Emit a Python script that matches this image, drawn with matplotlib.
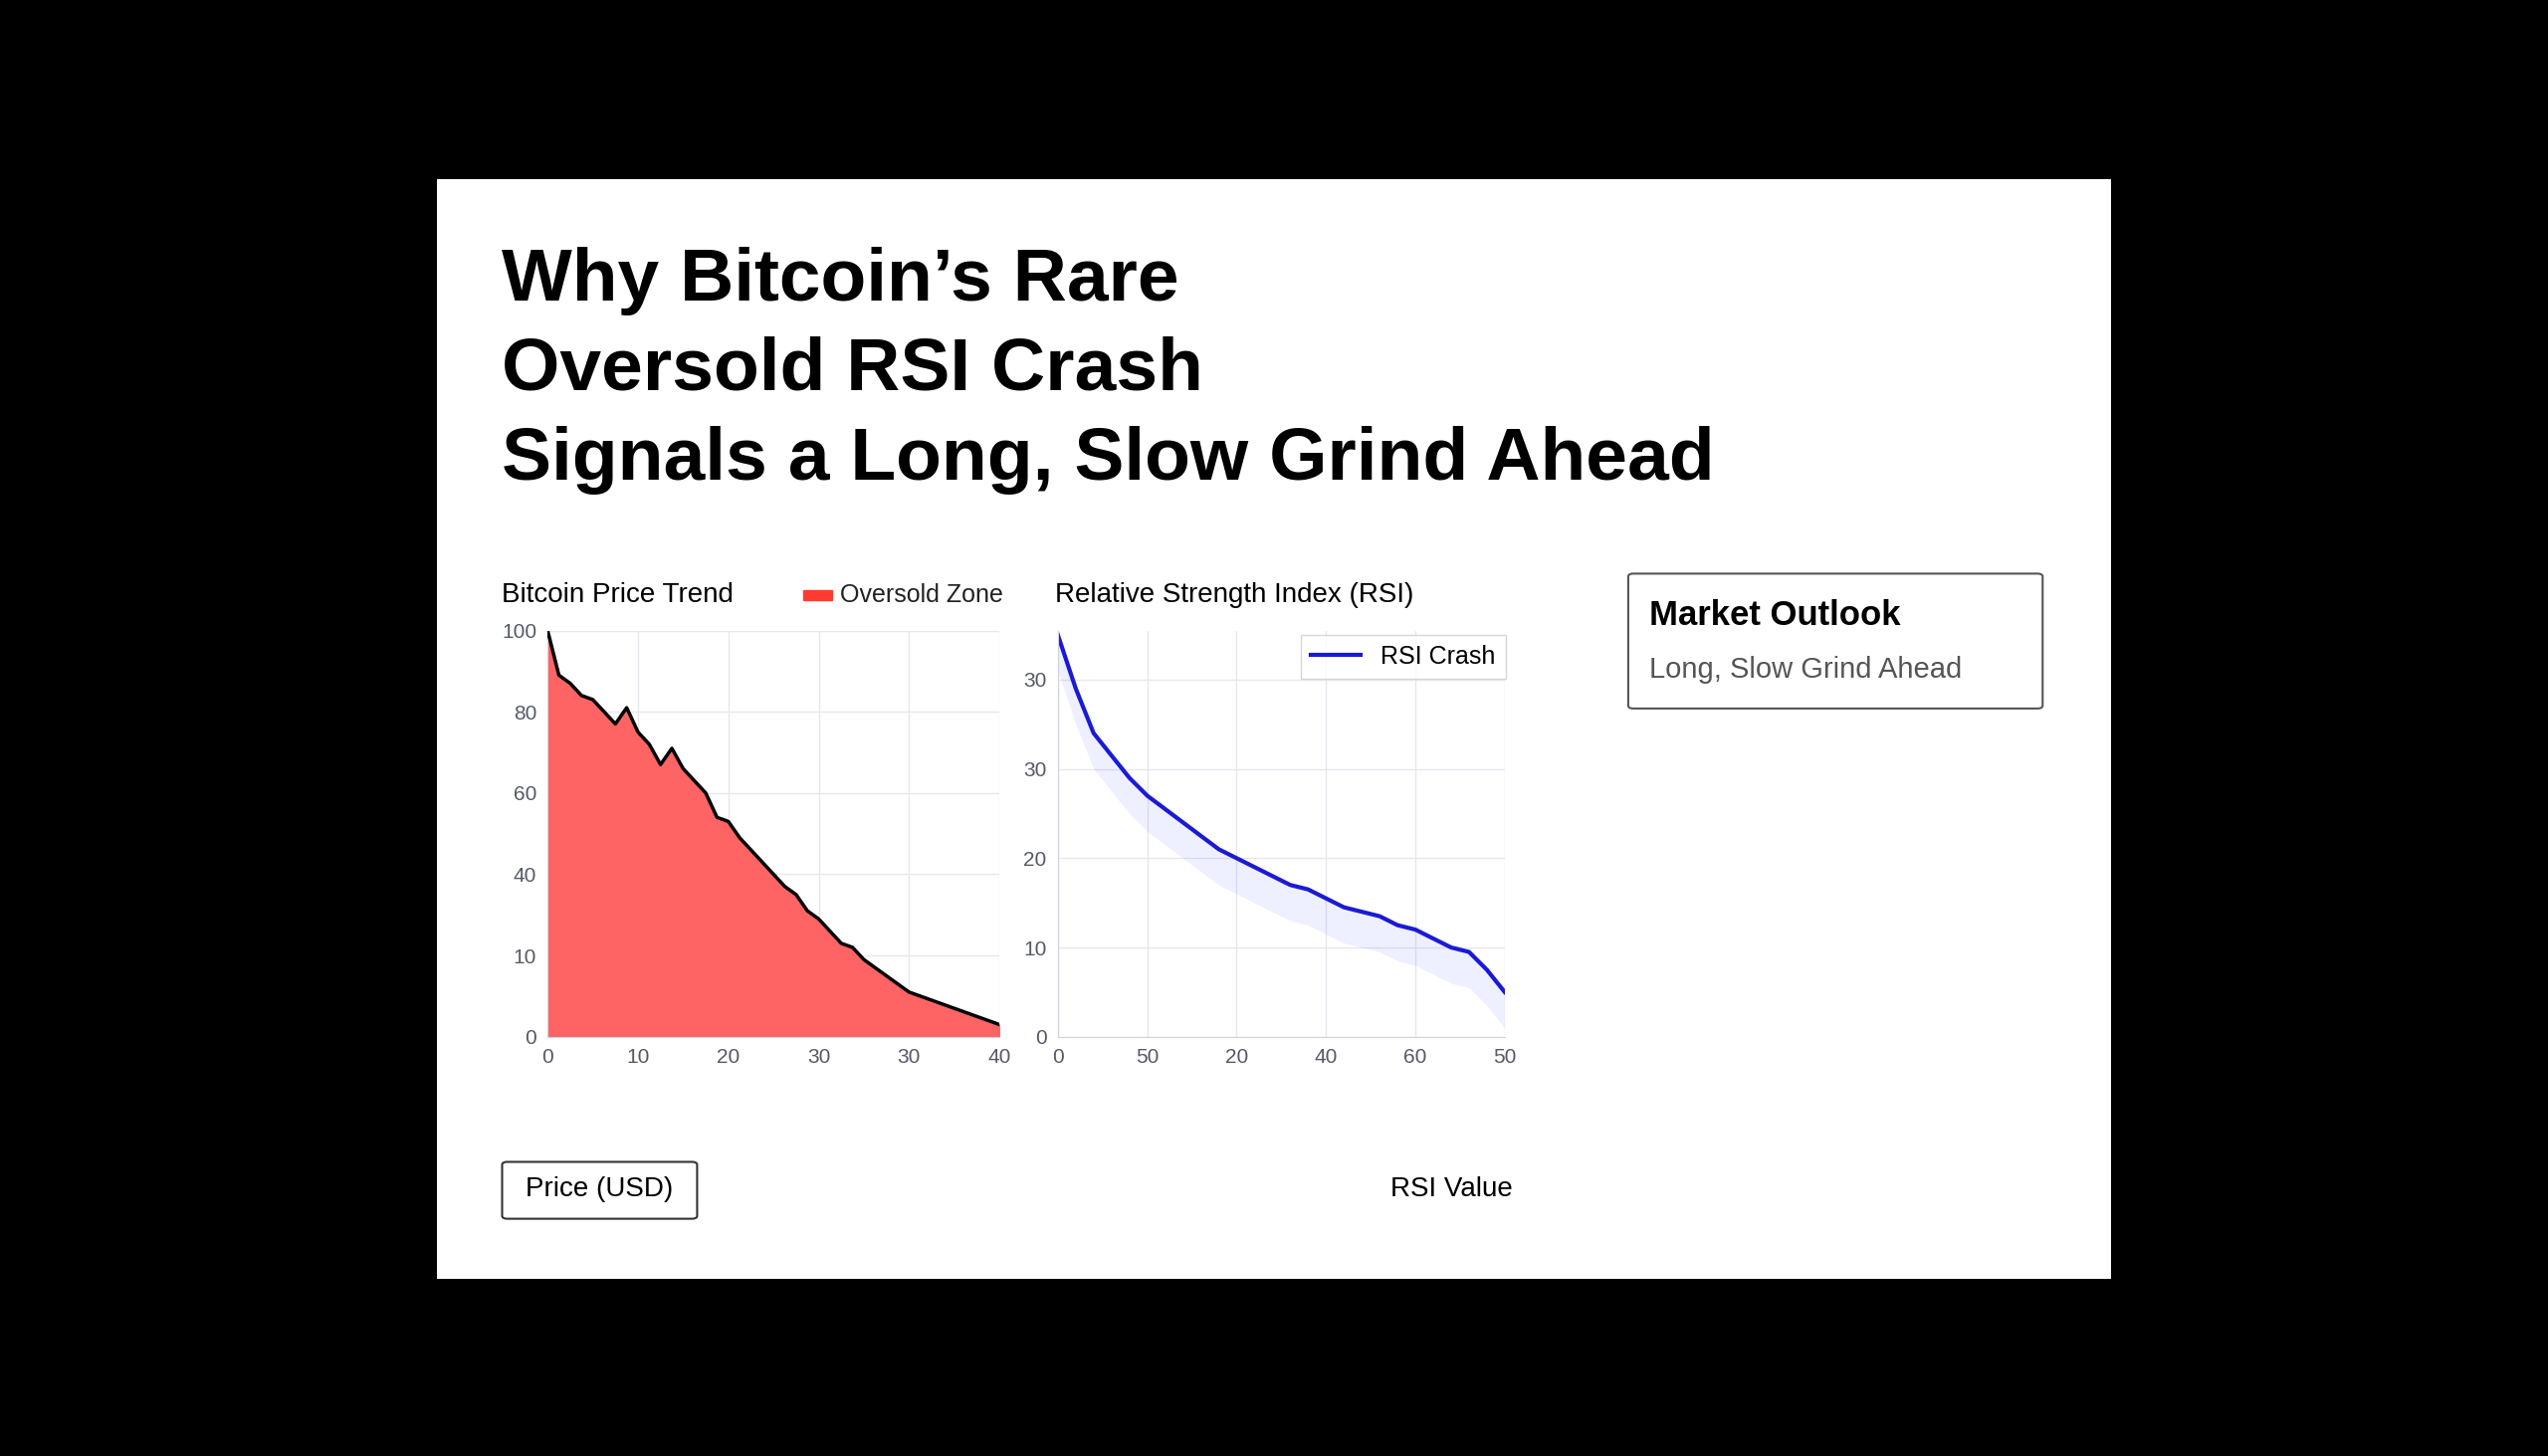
import matplotlib.pyplot as plt
from matplotlib.patches import Rectangle, FancyBboxPatch
from matplotlib.lines import Line2D

plt.rcParams['font.family'] = ['Liberation Sans', 'DejaVu Sans']

W, H = 1568, 896  # reference layout grid

price_x = list(range(41))
price = [100, 89, 87, 84, 83, 80, 77, 81, 75, 72, 67, 71, 66, 63, 60, 54, 53, 49, 46, 43,
         40, 37, 35, 31, 29, 26, 23, 22, 19, 17, 15, 13, 11, 10, 9, 8, 7, 6, 5, 4, 3]
price_xticks = [0, 8, 16, 24, 32, 40]
price_xlabels = ["0", "10", "20", "30", "30", "40"]
price_yticks = [0, 20, 40, 60, 80, 100]
price_ylabels = ["0", "10", "40", "60", "80", "100"]

rsi_x = [0, 2, 4, 6, 8, 10, 12, 14, 16, 18, 20, 22, 24, 26, 28, 30, 32, 34, 36, 38,
         40, 42, 44, 46, 48, 50]
rsi = [45, 39, 34, 31.5, 29, 27, 25.5, 24, 22.5, 21, 20, 19, 18, 17, 16.5, 15.5, 14.5,
       14, 13.5, 12.5, 12, 11, 10, 9.5, 7.5, 5]
rsi_xticks = [0, 10, 20, 30, 40, 50]
rsi_xlabels = ["0", "50", "20", "40", "60", "50"]
rsi_yticks = [0, 10, 20, 30, 40]
rsi_ylabels = ["0", "10", "20", "30", "30"]

fig = plt.figure(figsize=(25.6, 14.63), dpi=100, facecolor="black")

def fx(x): return x / W
def fy(y): return 1 - y / H

fig.patches.append(Rectangle((fx(269), fy(787)), fx(1299) - fx(269), fy(110) - fy(787),
                             transform=fig.transFigure, facecolor="white", edgecolor="none",
                             zorder=-5))

for i, line in enumerate(["Why Bitcoin\u2019s Rare", "Oversold RSI Crash",
                          "Signals a Long, Slow Grind Ahead"]):
    fig.text(fx(309), fy(173 + 55 * i), line, fontsize=54, fontweight="bold",
             va="center", ha="left")

def style(ax):
    ax.set_facecolor("white")
    for s in ax.spines.values():
        s.set_visible(False)
    ax.spines["left"].set_visible(True)
    ax.spines["bottom"].set_visible(True)
    ax.spines["left"].set_color("#cfd4dc")
    ax.spines["bottom"].set_color("#cfd4dc")
    ax.grid(True, color="#e6e8ee", lw=1)
    ax.set_axisbelow(True)
    ax.tick_params(length=0, labelsize=15, colors="#555a66", pad=8)

ax1 = fig.add_axes([fx(337), fy(638), fx(615) - fx(337), fy(388) - fy(638)])
style(ax1)
ax1.fill_between(price_x, price, color="#ff6464", zorder=2)
ax1.plot(price_x, price, color="black", lw=2.5, zorder=3)
ax1.set_xlim(0, 40)
ax1.set_ylim(0, 100)
ax1.set_xticks(price_xticks, price_xlabels)
ax1.set_yticks(price_yticks, price_ylabels)

ax2 = fig.add_axes([fx(651), fy(638), fx(926) - fx(651), fy(388) - fy(638)])
style(ax2)
ax2.fill_between(rsi_x, [r - 4 for r in rsi], rsi, color="#3040ff", alpha=0.08, lw=0)
ax2.plot(rsi_x, rsi, color="#1a1ad6", lw=3)
ax2.set_xlim(0, 50)
ax2.set_ylim(0, 45.5)
ax2.set_xticks(rsi_xticks, rsi_xlabels)
ax2.set_yticks(rsi_yticks, rsi_ylabels)
ax2.legend(handles=[Line2D([], [], color="#1a1ad6", lw=3, label="RSI Crash")],
           loc="upper right", fontsize=18, frameon=True, edgecolor="#cccccc",
           fancybox=False, bbox_to_anchor=(1.03, 1.02))

fig.text(fx(309), fy(366), "Bitcoin Price Trend", fontsize=20, va="center")
fig.patches.append(Rectangle((fx(494), fy(369)), fx(18), fy(363) - fy(369),
                             transform=fig.transFigure, color="#ff3b30"))
fig.text(fx(517), fy(366), "Oversold Zone", fontsize=18, va="center", color="#222222")
fig.text(fx(649), fy(366), "Relative Strength Index (RSI)", fontsize=20, va="center")

fig.patches.append(FancyBboxPatch((fx(1002), fy(436)), fx(1257) - fx(1002), fy(353) - fy(436),
                                  boxstyle="round,pad=0,rounding_size=0.002",
                                  transform=fig.transFigure, facecolor="white",
                                  edgecolor="#555555", lw=1.5))
fig.text(fx(1015), fy(379), "Market Outlook", fontsize=25, fontweight="bold", va="center")
fig.text(fx(1015), fy(412), "Long, Slow Grind Ahead", fontsize=21, va="center", color="#555555")

fig.patches.append(FancyBboxPatch((fx(309), fy(750)), fx(429) - fx(309), fy(715) - fy(750),
                                  boxstyle="round,pad=0,rounding_size=0.002",
                                  transform=fig.transFigure, facecolor="white",
                                  edgecolor="#333333", lw=1.5))
fig.text(fx(369), fy(732), "Price (USD)", fontsize=20, va="center", ha="center")
fig.text(fx(931), fy(732), "RSI Value", fontsize=20, va="center", ha="right")

fig.savefig("out.png", dpi=100, facecolor="black")
